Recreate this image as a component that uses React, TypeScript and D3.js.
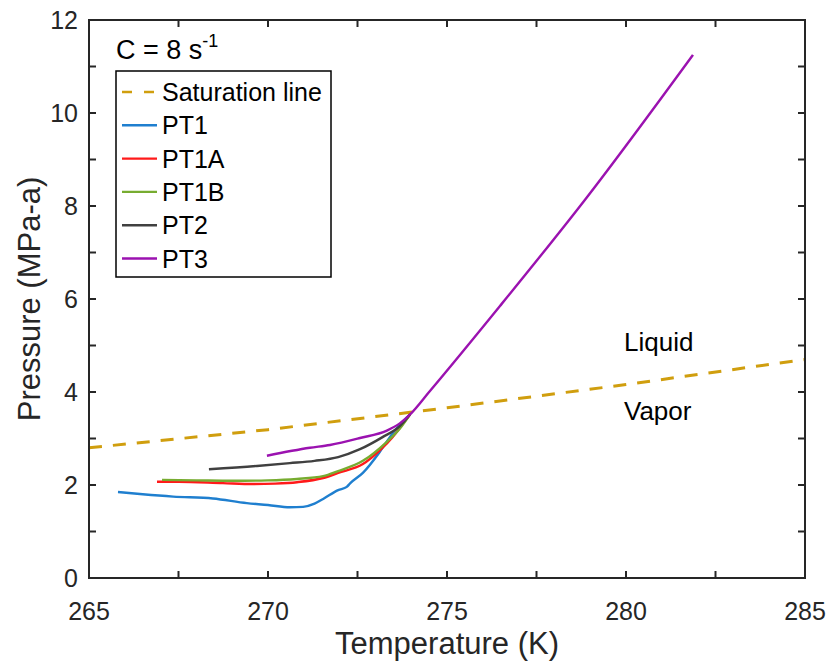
import React from "react";
import * as d3 from "d3";

// Saturation curve (temperature K, pressure MPa-a)
const satT = [265, 270, 275, 280, 285];
const satP = [2.8, 3.19, 3.66, 4.16, 4.7];

// Pressure–temperature traces
const pt1T = [265.81, 266.5, 267.35, 268.46, 269.41, 270.0, 270.61, 270.98, 271.3, 271.54, 271.96, 272.2, 272.3, 272.65, 273.13, 273.49, 273.69, 273.97];
const pt1P = [1.85, 1.8, 1.75, 1.71, 1.61, 1.57, 1.52, 1.53, 1.6, 1.7, 1.89, 1.96, 2.04, 2.26, 2.72, 3.12, 3.3, 3.52];

const pt1aT = [266.9, 267.5, 268.74, 269.58, 270.2, 270.81, 271.54, 271.96, 272.65, 273.13, 273.49, 273.75, 273.97];
const pt1aP = [2.07, 2.07, 2.04, 2.02, 2.03, 2.06, 2.15, 2.26, 2.45, 2.75, 3.04, 3.3, 3.52];

const pt1bT = [267.04, 268.0, 269.0, 270.0, 270.81, 271.54, 271.96, 272.65, 273.32, 273.69, 273.97];
const pt1bP = [2.11, 2.1, 2.09, 2.1, 2.13, 2.19, 2.3, 2.52, 2.93, 3.22, 3.52];

const pt2T = [268.35, 269.69, 270.61, 271.3, 271.96, 272.57, 273.2, 273.69, 273.97];
const pt2P = [2.34, 2.41, 2.47, 2.52, 2.6, 2.77, 3.03, 3.27, 3.52];

const pt3T = [269.97, 271.17, 271.73, 272.57, 273.32, 273.69, 273.97, 274.5, 276.48, 278.85, 281.87];
const pt3P = [2.63, 2.8, 2.86, 3.01, 3.17, 3.33, 3.52, 4.0, 5.85, 8.13, 11.25];

const xTickLabels = [265, 270, 275, 280, 285];
const yTickLabels = [0, 2, 4, 6, 8, 10, 12];

const legendNames = ["Saturation line", "PT1", "PT1A", "PT1B", "PT2", "PT3"];
const colors = ["#d09e0e", "#1f7fcf", "#ff1a1a", "#77ac30", "#404040", "#9b12b0"];

const FONT = "'Liberation Sans', Arial, Helvetica, sans-serif";
const AXIS = "#262626";

export default function App() {
  const W = 832;
  const H = 667;
  const left = 89, right = 805, top = 20, bottom = 578;

  const x = d3.scaleLinear().domain([265, 285]).range([left, right]);
  const y = d3.scaleLinear().domain([0, 12]).range([bottom, top]);

  const line = d3
    .line<[number, number]>()
    .x((d) => x(d[0]))
    .y((d) => y(d[1]))
    .curve(d3.curveMonotoneX);
  const straight = d3
    .line<[number, number]>()
    .x((d) => x(d[0]))
    .y((d) => y(d[1]));

  const zip = (a: number[], b: number[]) => a.map((v, i) => [v, b[i]] as [number, number]);

  const series = [
    zip(pt1T, pt1P),
    zip(pt1aT, pt1aP),
    zip(pt1bT, pt1bP),
    zip(pt2T, pt2P),
    zip(pt3T, pt3P),
  ];

  const xTicks = d3.range(265, 285.01, 2.5);
  const yTicks = d3.range(0, 12.01, 1);
  const tickLen = 7;

  const legX = 116, legY = 71, legW = 215, legH = 206;
  const rowH = 33.3;

  return (
    <svg width={W} height={H} style={{ display: "block", position: "absolute", left: 0, top: 0, background: "#fff" }}>
      <rect x={0} y={0} width={W} height={H} fill="#fff" />
      <defs>
        <clipPath id="plot">
          <rect x={left} y={top} width={right - left} height={bottom - top} />
        </clipPath>
      </defs>

      {/* saturation line and traces */}
      <g clipPath="url(#plot)">
        <path
          d={straight(zip(satT, satP)) || ""}
          fill="none"
          stroke={colors[0]}
          strokeWidth={3}
          strokeDasharray="13 11"
        />
        {series.map((s, i) => (
          <path key={i} d={line(s) || ""} fill="none" stroke={colors[i + 1]} strokeWidth={2.4} strokeLinejoin="round" />
        ))}
      </g>

      {/* region labels */}
      <text x={624} y={351} fontFamily={FONT} fontSize={26} fill="#000">Liquid</text>
      <text x={624} y={420} fontFamily={FONT} fontSize={26} fill="#000">Vapor</text>

      {/* axes box */}
      <rect x={left} y={top} width={right - left} height={bottom - top} fill="none" stroke={AXIS} strokeWidth={2} />
      {xTicks.map((t) => (
        <g key={"xt" + t}>
          <line x1={x(t)} x2={x(t)} y1={bottom} y2={bottom - tickLen} stroke={AXIS} strokeWidth={2} />
          <line x1={x(t)} x2={x(t)} y1={top} y2={top + tickLen} stroke={AXIS} strokeWidth={2} />
        </g>
      ))}
      {yTicks.map((t) => (
        <g key={"yt" + t}>
          <line x1={left} x2={left + tickLen} y1={y(t)} y2={y(t)} stroke={AXIS} strokeWidth={2} />
          <line x1={right} x2={right - tickLen} y1={y(t)} y2={y(t)} stroke={AXIS} strokeWidth={2} />
        </g>
      ))}
      {xTickLabels.map((t) => (
        <text key={"xl" + t} x={x(t)} y={620} textAnchor="middle" fontFamily={FONT} fontSize={25} fill={AXIS}>
          {t}
        </text>
      ))}
      {yTickLabels.map((t) => (
        <text key={"yl" + t} x={78} y={y(t) + 9} textAnchor="end" fontFamily={FONT} fontSize={25} fill={AXIS}>
          {t}
        </text>
      ))}

      {/* axis titles */}
      <text x={(left + right) / 2} y={654} textAnchor="middle" fontFamily={FONT} fontSize={31} fill={AXIS}>
        Temperature (K)
      </text>
      <text
        transform={`translate(40, ${(top + bottom) / 2}) rotate(-90)`}
        textAnchor="middle"
        fontFamily={FONT}
        fontSize={31}
        fill={AXIS}
      >
        Pressure (MPa-a)
      </text>

      {/* rate annotation */}
      <text x={116} y={59} fontFamily={FONT} fontSize={27} fill="#000">
        C = 8 s<tspan dy={-12} fontSize={18}>-1</tspan>
      </text>

      {/* legend */}
      <rect x={legX} y={legY} width={legW} height={legH} fill="#fff" stroke="#000" strokeWidth={1.5} />
      {legendNames.map((name, i) => {
        const cy = legY + 21 + i * rowH;
        return (
          <g key={name}>
            <line
              x1={122}
              x2={157}
              y1={cy}
              y2={cy}
              stroke={colors[i]}
              strokeWidth={i === 0 ? 2.6 : 2.4}
              strokeDasharray={i === 0 ? "10 12" : undefined}
            />
            <text x={162} y={cy + 9} fontFamily={FONT} fontSize={25} fill="#000">
              {name}
            </text>
          </g>
        );
      })}
    </svg>
  );
}
